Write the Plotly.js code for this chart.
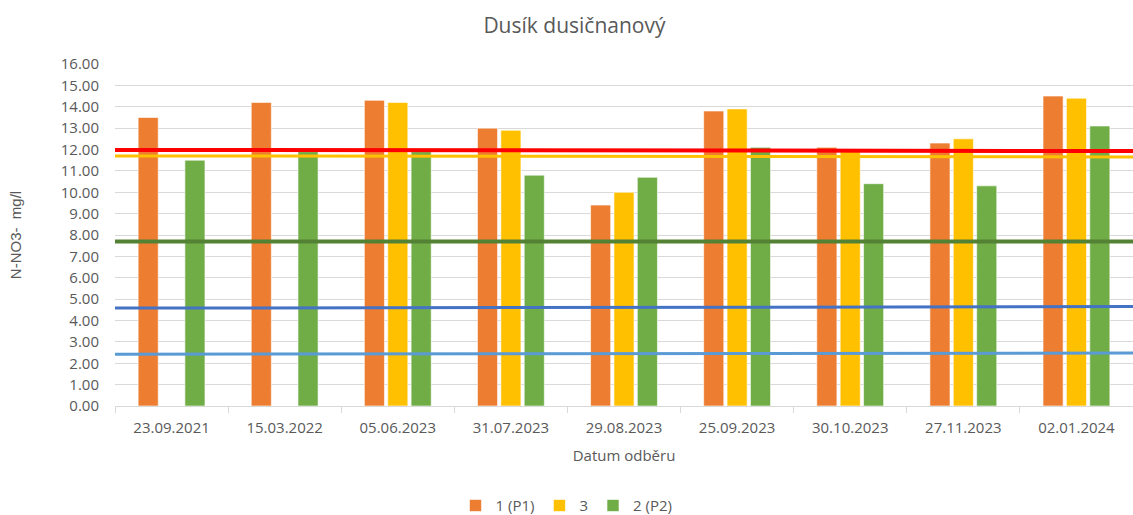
<!DOCTYPE html>
<html>
<head>
<meta charset="utf-8">
<script src="https://cdn.plot.ly/plotly-3.0.1.min.js"></script>
<style>html,body{margin:0;padding:0;background:#fff;}#chart{width:1133px;height:515px;}</style>
</head>
<body>
<div id="chart"></div>
<script>
const categories = ["23.09.2021","15.03.2022","05.06.2023","31.07.2023","29.08.2023","25.09.2023","30.10.2023","27.11.2023","02.01.2024"];
const seriesNames = ["1 (P1)","3","2 (P2)"];
const p1Values = [13.5, 14.2, 14.3, 13.0, 9.4, 13.8, 12.1, 12.3, 14.5];
const s3Values = [null, null, 14.2, 12.9, 10.0, 13.9, 11.9, 12.5, 14.4];
const p2Values = [11.5, 11.9, 11.9, 10.8, 10.7, 12.1, 10.4, 10.3, 13.1];
// reference lines: [left value, right value]
const lineRed = [11.98, 11.93];
const lineYellow = [11.70, 11.65];
const lineGreen = [7.70, 7.70];
const lineBlue = [4.58, 4.65];
const lineLightBlue = [2.42, 2.48];
const lineX = [0, 1];
const yTicks = [0,1,2,3,4,5,6,7,8,9,10,11,12,13,14,15,16];

const txt = "#595959";
const fnt = "Open Sans, Liberation Sans, sans-serif";
function bar(name, vals, color){
  return {type:"bar", name:name, x:categories, y:vals,
    marker:{color:color, line:{color:"rgba(255,255,255,0.6)", width:1}}, hoverinfo:"y"};
}
function hline(vals, color, w){
  return {type:"scatter", mode:"lines", x:lineX, y:vals, xaxis:"x2", yaxis:"y",
    line:{color:color, width:w}, showlegend:false, hoverinfo:"skip"};
}
const data = [
  bar(seriesNames[0], p1Values, "#ed7d31"),
  bar(seriesNames[1], s3Values, "#ffc000"),
  bar(seriesNames[2], p2Values, "#70ad47"),
  hline(lineLightBlue, "#5b9bd5", 3),
  hline(lineBlue, "#4472c4", 3),
  hline(lineGreen, "#548235", 4),
  hline(lineYellow, "#ffc000", 3),
  hline(lineRed, "#ff0000", 4)
];
const layout = {
  width:1133, height:515,
  margin:{l:115, r:0, t:64, b:109},
  paper_bgcolor:"#fff", plot_bgcolor:"#fff",
  font:{family:fnt, color:txt, size:14},
  title:{text:"Dusík dusičnanový", x:0.507, xanchor:"center", y:0.95, yanchor:"middle", font:{size:21, color:txt, family:fnt}},
  barmode:"group", bargap:0.38, bargroupgap:0.14,
  xaxis:{type:"category", domain:[0,1], automargin:false, showgrid:false, showline:true, linecolor:"#d9d9d9", linewidth:1,
    ticks:"outside", tickson:"boundaries", ticklen:6, tickcolor:"#d9d9d9", ticklabelstandoff:8,
    tickfont:{size:15, color:txt},
    title:{text:"Datum odběru", font:{size:15, color:txt}, standoff:14}},
  xaxis2:{overlaying:"x", range:[0,1], visible:false, domain:[0,1]},
  yaxis:{range:[0,16], automargin:false, tickvals:yTicks, ticktext:yTicks.map(v=>v.toFixed(2)),
    showgrid:true, gridcolor:"#d9d9d9", gridwidth:1, zeroline:false, showline:false,
    tickfont:{size:15, color:txt}, ticks:"", ticklabelstandoff:15,
    title:{text:"N-NO3-  mg/l", font:{size:15, color:txt, family:"Liberation Sans, Arial, sans-serif"}, standoff:35}},
  legend:{orientation:"h", x:0.5, xanchor:"center", xref:"container", yref:"container", y:0.018, yanchor:"middle",
    font:{size:15, color:txt}, itemwidth:30, tracegroupgap:0},
  showlegend:true
};
Plotly.newPlot("chart", data, layout, {displayModeBar:false, staticPlot:true});
</script>
</body>
</html>
